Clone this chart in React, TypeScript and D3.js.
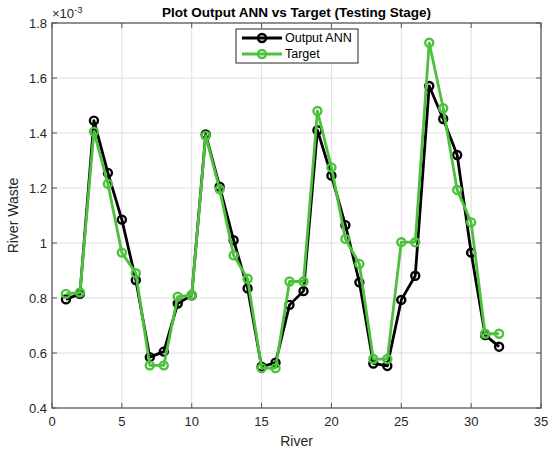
import React, { useRef, useEffect } from 'react';
import * as d3 from 'd3';

// values in units of 1e-3
const riverIdx = d3.range(1, 33);
const outputAnn = [
  0.795, 0.815, 1.445, 1.255, 1.085, 0.865, 0.585, 0.605, 0.78, 0.81,
  1.395, 1.205, 1.01, 0.835, 0.55, 0.565, 0.775, 0.825, 1.41, 1.245,
  1.065, 0.857, 0.562, 0.553, 0.793, 0.881, 1.571, 1.451, 1.32, 0.965,
  0.665, 0.623,
];
const target = [
  0.815, 0.82, 1.405, 1.215, 0.965, 0.89, 0.555, 0.555, 0.805, 0.81,
  1.39, 1.195, 0.955, 0.87, 0.545, 0.545, 0.86, 0.86, 1.48, 1.275,
  1.015, 0.924, 0.578, 0.578, 1.003, 1.003, 1.728, 1.49, 1.193, 1.075,
  0.67, 0.67,
];
const xTicks = [0, 5, 10, 15, 20, 25, 30, 35];
const yTicks = [0.4, 0.6, 0.8, 1, 1.2, 1.4, 1.6, 1.8];
const seriesNames = ['Output ANN', 'Target'];
const seriesColors = ['#000000', '#4cc23c'];

const Chart = () => {
  const ref = useRef(null);

  useEffect(() => {
    document.body.style.margin = '0';
    const svg = d3.select(ref.current);
    svg.selectAll('*').remove();

    const left = 52, right = 541, top = 23, bottom = 408;
    const font = 'Arial, "Liberation Sans", sans-serif';
    const axisColor = '#262626';
    const boxColor = '#555555';

    const x = d3.scaleLinear().domain([0, 35]).range([left, right]);
    const y = d3.scaleLinear().domain([0.4, 1.8]).range([bottom, top]);

    svg.append('rect').attr('width', 550).attr('height', 455).attr('fill', '#fff');

    // grid
    const grid = svg.append('g').attr('stroke', '#dfdfdf').attr('stroke-width', 1);
    xTicks.slice(1, -1).forEach((t) => {
      grid.append('line').attr('x1', x(t)).attr('x2', x(t)).attr('y1', top).attr('y2', bottom);
    });
    yTicks.slice(1, -1).forEach((t) => {
      grid.append('line').attr('x1', left).attr('x2', right).attr('y1', y(t)).attr('y2', y(t));
    });

    // series
    const line = d3
      .line()
      .x((d) => x(d[0]))
      .y((d) => y(d[1]));

    [outputAnn, target].forEach((vals, i) => {
      const pts = riverIdx.map((r, j) => [r, vals[j]]);
      const g = svg.append('g');
      g.append('path')
        .datum(pts)
        .attr('fill', 'none')
        .attr('stroke', seriesColors[i])
        .attr('stroke-width', 2.8)
        .attr('stroke-linejoin', 'round')
        .attr('d', line);
      g.selectAll('circle')
        .data(pts)
        .enter()
        .append('circle')
        .attr('cx', (d) => x(d[0]))
        .attr('cy', (d) => y(d[1]))
        .attr('r', 4)
        .attr('fill', 'none')
        .attr('stroke', seriesColors[i])
        .attr('stroke-width', 2.4);
    });

    // axes box
    svg.append('rect')
      .attr('x', left).attr('y', top)
      .attr('width', right - left).attr('height', bottom - top)
      .attr('fill', 'none').attr('stroke', boxColor).attr('stroke-width', 1.3);

    const ticks = svg.append('g').attr('stroke', boxColor).attr('stroke-width', 1);
    xTicks.forEach((t) => {
      ticks.append('line').attr('x1', x(t)).attr('x2', x(t)).attr('y1', bottom).attr('y2', bottom - 5);
      ticks.append('line').attr('x1', x(t)).attr('x2', x(t)).attr('y1', top).attr('y2', top + 5);
    });
    yTicks.forEach((t) => {
      ticks.append('line').attr('x1', left).attr('x2', left + 5).attr('y1', y(t)).attr('y2', y(t));
      ticks.append('line').attr('x1', right).attr('x2', right - 5).attr('y1', y(t)).attr('y2', y(t));
    });

    svg.append('g')
      .selectAll('text')
      .data(xTicks)
      .enter()
      .append('text')
      .attr('x', (d) => x(d))
      .attr('y', bottom + 18)
      .attr('text-anchor', 'middle')
      .attr('font-family', font)
      .attr('font-size', 13)
      .attr('fill', axisColor)
      .text((d) => d);

    svg.append('g')
      .selectAll('text')
      .data(yTicks)
      .enter()
      .append('text')
      .attr('x', left - 5)
      .attr('y', (d) => y(d) + 4.5)
      .attr('text-anchor', 'end')
      .attr('font-family', font)
      .attr('font-size', 13)
      .attr('fill', axisColor)
      .text((d) => d3.format('~g')(d));

    // exponent
    const ex = svg.append('text')
      .attr('x', left)
      .attr('y', 18)
      .attr('font-family', font)
      .attr('font-size', 13)
      .attr('fill', axisColor);
    ex.append('tspan').text('\u00d710');
    ex.append('tspan').attr('font-size', 9.5).attr('dy', -5).text('-3');

    // title & labels
    svg.append('text')
      .attr('x', (left + right) / 2)
      .attr('y', 17)
      .attr('text-anchor', 'middle')
      .attr('font-family', font)
      .attr('font-size', 13.5)
      .attr('font-weight', 'bold')
      .attr('fill', '#000')
      .text('Plot Output ANN vs Target (Testing Stage)');

    svg.append('text')
      .attr('x', (left + right) / 2)
      .attr('y', 446)
      .attr('text-anchor', 'middle')
      .attr('font-family', font)
      .attr('font-size', 14)
      .attr('fill', axisColor)
      .text('River');

    svg.append('text')
      .attr('transform', `translate(18, ${(top + bottom) / 2}) rotate(-90)`)
      .attr('text-anchor', 'middle')
      .attr('font-family', font)
      .attr('font-size', 14)
      .attr('fill', axisColor)
      .text('River Waste');

    // legend
    const lg = svg.append('g');
    lg.append('rect')
      .attr('x', 236).attr('y', 29).attr('width', 122).attr('height', 34)
      .attr('fill', '#fff').attr('stroke', axisColor).attr('stroke-width', 1);
    seriesNames.forEach((name, i) => {
      const ly = 38 + i * 16;
      lg.append('line')
        .attr('x1', 242).attr('x2', 282).attr('y1', ly).attr('y2', ly)
        .attr('stroke', seriesColors[i]).attr('stroke-width', 2.8);
      lg.append('circle')
        .attr('cx', 262).attr('cy', ly).attr('r', 4)
        .attr('fill', 'none').attr('stroke', seriesColors[i]).attr('stroke-width', 2.4);
      lg.append('text')
        .attr('x', 285).attr('y', ly + 4)
        .attr('font-family', font).attr('font-size', 12.5).attr('fill', '#000')
        .text(name);
    });
  }, []);

  return <svg ref={ref} width={550} height={455} style={{ display: 'block' }}></svg>;
};

export default function App() {
  return <Chart />;
}
